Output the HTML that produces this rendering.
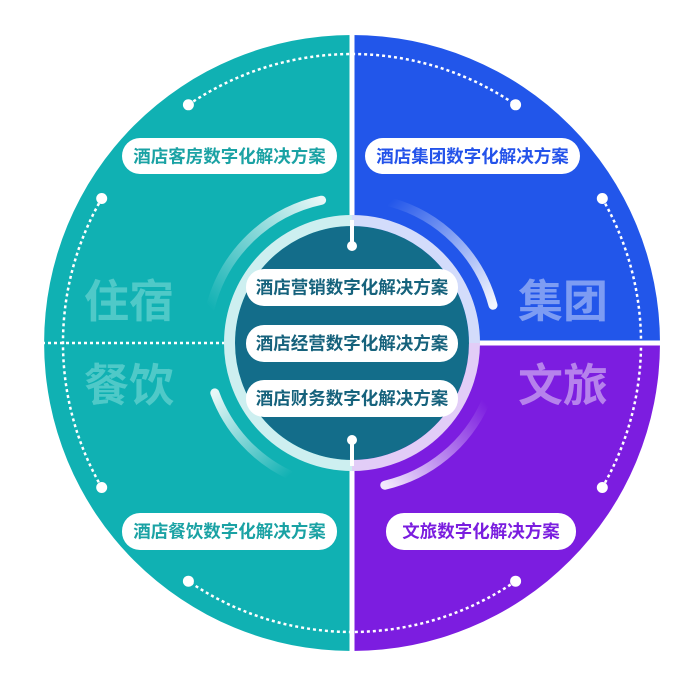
<!DOCTYPE html>
<html><head><meta charset="utf-8"><style>
html,body{margin:0;padding:0;background:#fff;width:700px;height:694px;overflow:hidden}
svg{display:block}
text{font-family:"Liberation Sans","Noto Sans CJK SC",sans-serif;font-weight:bold}
</style></head><body>
<svg width="700" height="694" viewBox="0 0 700 694">
<defs>
<linearGradient id="g1" gradientUnits="userSpaceOnUse" x1="210" y1="308" x2="322" y2="200"><stop offset="0" stop-color="#fff" stop-opacity="0"/><stop offset="1" stop-color="#fff" stop-opacity="0.9"/></linearGradient>
<linearGradient id="g2" gradientUnits="userSpaceOnUse" x1="390" y1="202" x2="493" y2="305"><stop offset="0" stop-color="#fff" stop-opacity="0"/><stop offset="1" stop-color="#fff" stop-opacity="0.95"/></linearGradient>
<linearGradient id="g3" gradientUnits="userSpaceOnUse" x1="290" y1="475" x2="215" y2="393"><stop offset="0" stop-color="#fff" stop-opacity="0"/><stop offset="1" stop-color="#fff" stop-opacity="0.9"/></linearGradient>
<linearGradient id="g4" gradientUnits="userSpaceOnUse" x1="485" y1="402" x2="385" y2="485"><stop offset="0" stop-color="#fff" stop-opacity="0"/><stop offset="1" stop-color="#fff" stop-opacity="0.9"/></linearGradient>
</defs>
<path d="M352,35 A308,308 0 0,0 352,651 Z" fill="#10b1b3"/>
<path d="M352,343 L352,35 A308,308 0 0,1 660,343 Z" fill="#2256ea"/>
<path d="M352,343 L660,343 A308,308 0 0,1 352,651 Z" fill="#7c1de0"/>
<g fill="none" stroke="#fff" stroke-width="2.5" stroke-dasharray="3 3">
<path d="M188.4,104.8 A289,289 0 0,1 515.6,104.8"/>
<path d="M602.3,198.5 A289,289 0 0,1 602.3,487.5"/>
<path d="M515.6,581.2 A289,289 0 0,1 188.4,581.2"/>
<path d="M101.7,487.5 A289,289 0 0,1 101.7,198.5"/>
<line x1="42" y1="343" x2="228" y2="343"/>
</g>
<g fill="#fff">
<circle cx="188.4" cy="104.8" r="5.5"/><circle cx="515.6" cy="104.8" r="5.5"/>
<circle cx="602.3" cy="198.5" r="5.5"/><circle cx="602.3" cy="487.5" r="5.5"/>
<circle cx="515.6" cy="581.2" r="5.5"/><circle cx="188.4" cy="581.2" r="5.5"/>
<circle cx="101.7" cy="487.5" r="5.5"/><circle cx="101.7" cy="198.5" r="5.5"/>
</g>
<g fill="none" stroke-width="9" stroke-linecap="round">
<path d="M210.3,307.7 A146,146 0 0,1 321.6,200.2" stroke="url(#g1)"/>
<path d="M389.8,202 A146,146 0 0,1 493,305.2" stroke="url(#g2)"/>
<path d="M290.3,475.3 A146,146 0 0,1 214.8,392.9" stroke="url(#g3)"/>
<path d="M485.4,402.4 A146,146 0 0,1 384.8,485.2" stroke="url(#g4)"/>
</g>
<line x1="352" y1="30" x2="352" y2="656" stroke="#fff" stroke-width="5"/>
<line x1="352" y1="343" x2="664" y2="343" stroke="#fff" stroke-width="5"/>
<circle cx="352" cy="343" r="117" fill="#136d8a"/>
<g fill="none" stroke-width="11">
<path d="M352,465.5 A122.5,122.5 0 0,1 352,220.5" stroke="#cdeff0"/>
<path d="M352,220.5 A122.5,122.5 0 0,1 474.5,343" stroke="#d3dcfb"/>
<path d="M474.5,343 A122.5,122.5 0 0,1 352,465.5" stroke="#e2cdf7"/>
</g>
<line x1="352" y1="220" x2="352" y2="246" stroke="#fff" stroke-width="4"/>
<circle cx="352" cy="246" r="5" fill="#fff"/>
<line x1="352" y1="440" x2="352" y2="466" stroke="#fff" stroke-width="4"/>
<circle cx="352" cy="440" r="5" fill="#fff"/>
<g fill="#fff">
<rect x="122" y="138" width="215" height="36" rx="18"/>
<rect x="365" y="138" width="215" height="36" rx="18"/>
<rect x="122" y="513" width="215" height="37" rx="18"/>
<rect x="386" y="513" width="190" height="37" rx="18"/>
<rect x="246" y="269" width="212" height="37" rx="18"/>
<rect x="246" y="325" width="212" height="37" rx="18"/>
<rect x="246" y="380" width="212" height="37" rx="18"/>
</g>
<g font-size="17.5" text-anchor="middle">
<text x="229.5" y="162.5" fill="#1aa2a4">酒店客房数字化解决方案</text>
<text x="472.5" y="162.5" fill="#2453ea">酒店集团数字化解决方案</text>
<text x="229.5" y="537.5" fill="#1aa2a4">酒店餐饮数字化解决方案</text>
<text x="481" y="537.5" fill="#7a1ddf">文旅数字化解决方案</text>
<text x="352" y="293.5" fill="#16627c">酒店营销数字化解决方案</text>
<text x="352" y="349.5" fill="#16627c">酒店经营数字化解决方案</text>
<text x="352" y="404.5" fill="#16627c">酒店财务数字化解决方案</text>
</g>
<g font-size="45">
<text x="84" y="317" fill="#5fd0cd" fill-opacity="0.8">住宿</text>
<text x="84" y="401" fill="#5fd0cd" fill-opacity="0.8">餐饮</text>
<text x="518" y="317" fill="#7d9cf3">集团</text>
<text x="518" y="401" fill="#b682ec">文旅</text>
</g>
</svg>
</body></html>
